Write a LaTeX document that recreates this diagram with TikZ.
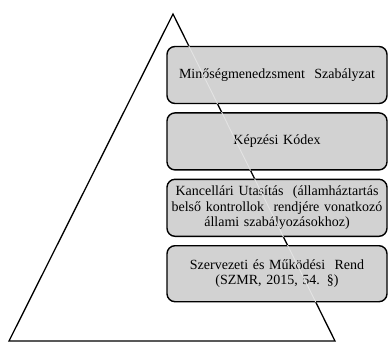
\documentclass[tikz,border=0pt]{standalone}
\usepackage{fontspec}
\setmainfont{Liberation Serif}
\usetikzlibrary{positioning}
\tikzset{
thick,
node distance=8pt,
every node/.style={font=\fontsize{14}{15.6}\selectfont},
}

\begin{document}
\begin{tikzpicture}
    [x=1pt, y=-1pt,
    rule/.style={draw, line width=1.4pt, rounded corners=8pt, fill=gray!35,
        minimum width=220pt, minimum height=57pt, text width=216pt, align=center, inner sep=2pt}
    ]
    \useasboundingbox (0,0) rectangle (389,343);

    \coordinate (top) at (173,14);
    \coordinate (bl) at (9,341);
    \coordinate (br) at (335,341);
    \draw[line width=1.3pt, line join=miter] (top) -- (bl) -- (br) -- cycle;

    \node [rule] (msz) at (277,75) {Minőségmenedzsment~ Szabályzat};

    \node [rule] (kk) [below=of msz] {Képzési Kódex};

    \node [rule] (ku) [below=of kk]
    {
        Kancellári Utasítás~ (államháztartás
        \\
        belső kontrollok~ rendjére vonatkozó
        \\
        állami szabályozásokhoz)
    };

    \node [rule, minimum height=56pt] (szmr) [below=of ku]
    {
        Szervezeti és Működési~ Rend
        \\
        (SZMR, 2015, 54. §)
    };

    % faint line of the triangle inside the boxes
    \begin{scope}
        \clip (msz.south west) rectangle (msz.north east)
              (kk.south west) rectangle (kk.north east)
              (ku.south west) rectangle (ku.north east)
              (szmr.south west) rectangle (szmr.north east);
        \draw[gray!22, line width=0.9pt] (top) -- (br);
    \end{scope}

\end{tikzpicture}
\end{document}
